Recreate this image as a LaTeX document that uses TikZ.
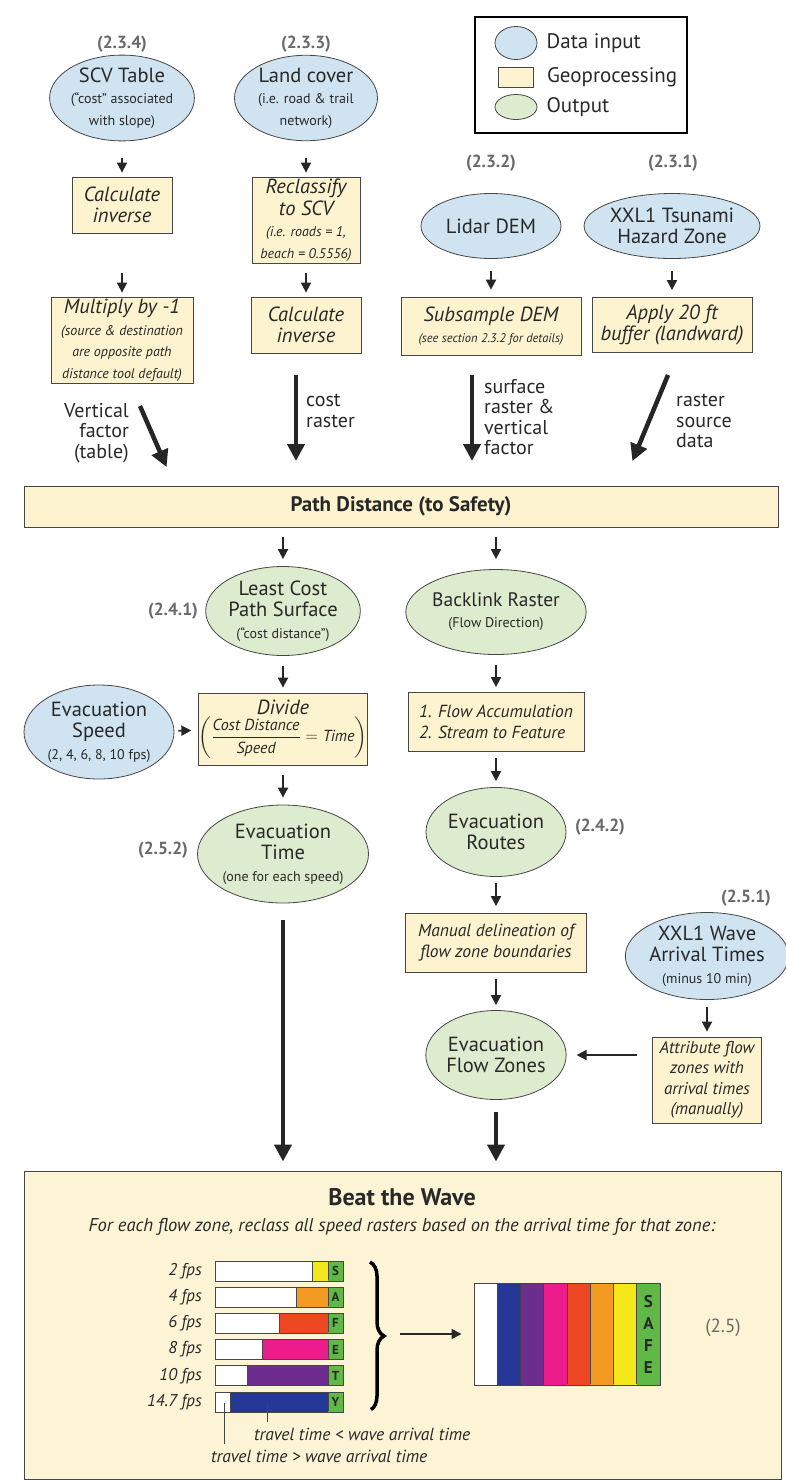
\documentclass[tikz,border=0pt]{standalone}
\usepackage{amsmath}
\usepackage{fontspec}
\setmainfont{PT Sans}
\usepackage{tikz}
\usetikzlibrary{
        arrows.meta,
        decorations.pathreplacing,
        positioning,
        shapes.geometric
    }
\definecolor{edgec}{RGB}{70,70,70}
\definecolor{txtc}{RGB}{40,40,40}
\definecolor{secc}{RGB}{105,105,105}
\definecolor{infill}{RGB}{207,227,241}
\definecolor{procfill}{RGB}{253,243,206}
\definecolor{outfill}{RGB}{221,236,206}
\definecolor{beatfill}{RGB}{253,244,214}
\definecolor{barY}{RGB}{245,232,26}
\definecolor{barO}{RGB}{243,154,34}
\definecolor{barR}{RGB}{238,72,35}
\definecolor{barK}{RGB}{236,28,140}
\definecolor{barP}{RGB}{108,45,143}
\definecolor{barB}{RGB}{38,56,150}
\definecolor{barG}{RGB}{96,184,70}
\newcommand{\fsbig}{\fontsize{20.5}{21.5}\selectfont}
\newcommand{\fsmid}{\fontsize{16}{18}\selectfont}
\newcommand{\fssmall}{\fontsize{14}{16}\selectfont}
\tikzset{>={Triangle[length=10pt,width=10pt]},shorten >=1pt}
\tikzset{
    datain/.style={ellipse,draw=edgec,fill=infill,line width=0.8pt,inner sep=0pt,align=center,text=txtc,font=\fsbig},
    outnode/.style={datain,fill=outfill},
    geo/.style={rectangle,draw=edgec,fill=procfill,line width=0.8pt,inner sep=0pt,align=center,text=txtc,font=\fsbig\itshape},
    secnum/.style={text=secc,inner sep=0pt,font=\fontsize{17.5}{19}\selectfont\bfseries},
    lbl/.style={text=txtc,inner sep=0pt,font=\fontsize{20}{20.5}\selectfont},
    thinarr/.style={->,line width=1.8pt,color=black!85},
    thickarr/.style={-{Triangle[length=17pt,width=17pt]},line width=4.5pt,color=black!85}
}

\begin{document}
\begin{tikzpicture}[x=1pt,y=-1pt]
    \useasboundingbox (0,0) rectangle (785,1481);

    % legend
    \node[draw=black,line width=1.5pt,minimum width=212pt,minimum height=116pt,inner sep=0pt] (legend) at (581,75) {};
    \node[datain,minimum width=42pt,minimum height=33pt] (lgin) at (516,43) {};
    \node[geo,minimum width=35pt,minimum height=20pt] (lgproc) at (516,77) {};
    \node[outnode,minimum width=42pt,minimum height=25pt] (lgout) at (516,107) {};
    \node[lbl,font=\fontsize{21}{22}\selectfont,right=9pt of lgin] (lgintxt) {Data input};
    \node[lbl,font=\fontsize{21}{22}\selectfont,right=13pt of lgproc] (lgproctxt) {Geoprocessing};
    \node[lbl,font=\fontsize{21}{22}\selectfont,right=9pt of lgout] (lgouttxt) {Output};

    % inputs
    \node[secnum] (s234) at (122,44) {(2.3.4)};
    \node[secnum] (s233) at (306,44) {(2.3.3)};
    \node[secnum] (s232) at (491,163) {(2.3.2)};
    \node[secnum] (s231) at (673,163) {(2.3.1)};
    \node[datain,minimum width=143pt,minimum height=70pt] (scv) at (122,98)
        {SCV Table\\\fssmall (``cost'' associated\\\fssmall with slope)};
    \node[datain,minimum width=143pt,minimum height=70pt] (land) at (306,98)
        {Land cover\\\fssmall (i.e. road \& trail\\\fssmall network)};
    \node[datain,minimum width=140pt,minimum height=65pt] (lidar) at (491,226) {Lidar DEM};
    \node[datain,minimum width=141pt,minimum height=65pt] (xxl) at (672,226) {XXL1 Tsunami\\Hazard Zone};

    % geoprocessing, top
    \node[geo,minimum width=100pt,minimum height=56pt] (inv1) at (122,205) {Calculate\\inverse};
    \node[geo,minimum width=108pt,minimum height=86pt] (recl) at (306,220)
        {Reclassify\\to SCV\\\fssmall (i.e. roads = 1,\\\fssmall beach = 0.5556)};
    \node[geo,minimum width=142pt,minimum height=86pt] (mult) at (122,340)
        {Multiply by -1\\\fssmall (source \& destination\\\fssmall are opposite path\\\fssmall distance tool default)};
    \node[geo,minimum width=110pt,minimum height=56pt] (inv2) at (306,325) {Calculate\\inverse};
    \node[geo,minimum width=180pt,minimum height=58pt] (subs) at (491,326)
        {Subsample DEM\\\fontsize{12.5}{15}\selectfont (see section 2.3.2 for details)};
    \node[geo,minimum width=160pt,minimum height=55pt] (buff) at (672,325) {Apply 20 ft\\buffer (landward)};

    \path[thinarr]
        (scv) edge[shorten <=17pt,shorten >=4pt] (inv1)
        (land) edge[shorten <=17pt,shorten >=4pt] (recl)
        (inv1) edge[shorten <=40pt,shorten >=4pt] (mult)
        (recl) edge[shorten <=10pt,shorten >=4pt] (inv2)
        (lidar) edge[shorten <=12pt,shorten >=7pt] (subs)
        (xxl) edge[shorten <=12pt,shorten >=7pt] (buff);

    % into path distance
    \node[geo,minimum width=754pt,minimum height=41pt,font=\fontsize{21}{22}\selectfont\bfseries] (pathd) at (401,506.5)
        {Path Distance (to Safety)};
    \coordinate (vfA) at (140,406);
    \coordinate (vfB) at (167,468);
    \coordinate (crA) at (296,375);
    \coordinate (crB) at (296,462);
    \coordinate (srA) at (472,375);
    \coordinate (srB) at (472,462);
    \coordinate (rsA) at (668,375);
    \coordinate (rsB) at (632,462);
    \draw[thickarr] (vfA) -- (vfB);
    \draw[thickarr] (crA) -- (crB);
    \draw[thickarr] (srA) -- (srB);
    \draw[thickarr] (rsA) -- (rsB);
    \node[lbl,anchor=east,align=right] (vflbl) at (129,433) {Vertical\\factor\\(table)};
    \node[lbl,anchor=west,align=left] (crlbl) at (306,411) {cost\\raster};
    \node[lbl,anchor=west,align=left] (srlbl) at (484,417) {surface\\raster \&\\vertical\\factor};
    \node[lbl,anchor=west,align=left] (rslbl) at (676,421) {raster\\source\\data};

    % outputs of path distance
    \node[secnum] (s241) at (173,611) {(2.4.1)};
    \node[outnode,minimum width=140pt,minimum height=89pt] (least) at (283,611)
        {Least Cost\\Path Surface\\\fssmall (``cost distance'')};
    \node[outnode,minimum width=139pt,minimum height=85pt,font=\fontsize{19.5}{21}\selectfont] (back) at (496,612)
        {Backlink Raster\\\fssmall (Flow Direction)};
    \node[datain,minimum width=150pt,minimum height=94pt] (speed) at (99,732)
        {Evacuation\\Speed\\\fssmall (2, 4, 6, 8, 10 fps)};
    \node[geo,minimum width=146pt,minimum height=72pt] (divide) at (283,729)
        {Divide\\[1pt]\fsmid $\left(\displaystyle\frac{\textit{Cost Distance}}{\textit{Speed}}=\textit{Time}\right)$};
    \node[geo,minimum width=176pt,minimum height=59pt,align=left,font=\fontsize{17.5}{21}\selectfont\itshape] (flow) at (496,722)
        {1. Flow Accumulation\\2. Stream to Feature};
    \node[secnum] (s252) at (163,850) {(2.5.2)};
    \node[outnode,minimum width=170pt,minimum height=98pt] (time) at (283,854)
        {Evacuation\\Time\\\fssmall (one for each speed)};
    \node[outnode,minimum width=140pt,minimum height=89pt] (routes) at (496,832) {Evacuation\\Routes};
    \node[secnum] (s242) at (600,827) {(2.4.2)};
    \node[geo,minimum width=181pt,minimum height=59pt,font=\fontsize{17.5}{21}\selectfont\itshape] (manual) at (496,943)
        {Manual delineation of\\flow zone boundaries};
    \node[secnum] (s251) at (746,898) {(2.5.1)};
    \node[datain,minimum width=140pt,minimum height=87pt] (wave) at (707,956)
        {XXL1 Wave\\Arrival Times\\\fssmall (minus 10 min)};
    \node[geo,minimum width=109pt,minimum height=86pt,font=\fontsize{17}{20.5}\selectfont\itshape] (attr) at (707,1080)
        {Attribute flow\\zones with\\arrival times\\(manually)};
    \node[outnode,minimum width=139pt,minimum height=89pt] (zones) at (496,1055) {Evacuation\\Flow Zones};

    \path[thinarr]
        (pathd.south -| least) edge[shorten <=10pt,shorten >=7pt] (least)
        (pathd.south -| back) edge[shorten <=10pt,shorten >=10pt] (back)
        (least) edge[shorten <=10pt,shorten >=5pt] (divide)
        (speed) edge[shorten <=4pt,shorten >=7pt] (divide)
        (divide) edge[shorten <=10pt,shorten >=7pt] (time)
        (back) edge[shorten <=10pt,shorten >=5pt] (flow)
        (flow) edge[shorten <=6pt,shorten >=6pt] (routes)
        (routes) edge[shorten <=6pt,shorten >=7pt] (manual)
        (manual) edge[shorten <=6pt,shorten >=5pt] (zones)
        (wave) edge[shorten <=7pt,shorten >=5pt] (attr)
        (attr.west |- zones) edge[shorten <=15pt,shorten >=10pt] (zones);

    % beat the wave
    \node[draw=edgec,fill=beatfill,line width=1pt,minimum width=757pt,minimum height=308pt,inner sep=0pt] (beat) at (402.5,1325) {};
    \draw[thickarr,shorten <=17pt,shorten >=9pt] (time.south) -- (time.south |- beat.north);
    \draw[thickarr,shorten <=12pt,shorten >=9pt] (zones.south) -- (zones.south |- beat.north);
    \node[lbl,font=\fontsize{24}{26}\selectfont\bfseries] (beattitle) at (402,1197) {Beat the Wave};
    \node[lbl,font=\fontsize{18.5}{20}\selectfont\itshape] (beatsub) at (402,1227)
        {For each flow zone, reclass all speed rasters based on the arrival time for that zone:};

    \foreach \lab/\wend/\bc/\ltr [count=\i from 0] in
        {2 fps/312/barY/S, 4 fps/296/barO/A, 6 fps/279/barR/F,
         8 fps/262/barK/E, 10 fps/247/barP/T, 14.7 fps/230/barB/Y} {
        \pgfmathsetmacro{\yy}{1271+26.2*\i}
        \fill[white] (215,\yy-10) rectangle (\wend,\yy+10);
        \fill[\bc] (\wend,\yy-10) rectangle (328,\yy+10);
        \fill[barG] (328,\yy-10) rectangle (343,\yy+10);
        \draw[edgec,line width=0.8pt] (\wend,\yy-10) -- (\wend,\yy+10) (328,\yy-10) -- (328,\yy+10);
        \draw[edgec,line width=0.8pt] (215,\yy-10) rectangle (343,\yy+10);
        \node[text=txtc,font=\fontsize{13}{14}\selectfont\bfseries] (ltr\i) at (335.5,\yy) {\ltr};
        \node[lbl,anchor=east,font=\fontsize{17}{18}\selectfont\itshape] (fps\i) at (202,\yy) {\lab};
    }
    \draw[edgec,line width=0.8pt] (224,1403) -- (224,1445);
    \draw[edgec,line width=0.8pt] (267,1402) -- (267,1423);
    \node[lbl,anchor=west,font=\fontsize{17.5}{18}\selectfont\itshape] (ltlbl) at (254,1434) {travel time < wave arrival time};
    \node[lbl,anchor=west,font=\fontsize{17.5}{18}\selectfont\itshape] (gtlbl) at (211,1456) {travel time > wave arrival time};

    \draw[decorate,decoration={brace,amplitude=14pt},line width=3.5pt] (370,1262) -- (370,1410);
    \coordinate (brtip) at (400,1334);

    \foreach \sc [count=\j from 0] in {white,barB,barP,barK,barR,barO,barY,barG}
        \fill[\sc] (474+\j*23.25,1283) rectangle (497.25+\j*23.25,1385);
    \foreach \j in {1,...,7}
        \draw[edgec,line width=0.8pt] (474+\j*23.25,1283) -- (474+\j*23.25,1385);
    \node[draw=edgec,line width=1pt,minimum width=186pt,minimum height=102pt,inner sep=0pt] (safe) at (567,1334) {};
    \node[text=txtc,align=center,font=\fontsize{17}{22}\selectfont\bfseries] (safetxt) at (648.4,1334) {S\\A\\F\\E};
    \draw[thinarr,shorten >=12pt] (brtip) -- (safe);
    \node[secnum,font=\fontsize{19}{20}\selectfont] (s25) at (723,1328) {(2.5)};
\end{tikzpicture}
\end{document}
